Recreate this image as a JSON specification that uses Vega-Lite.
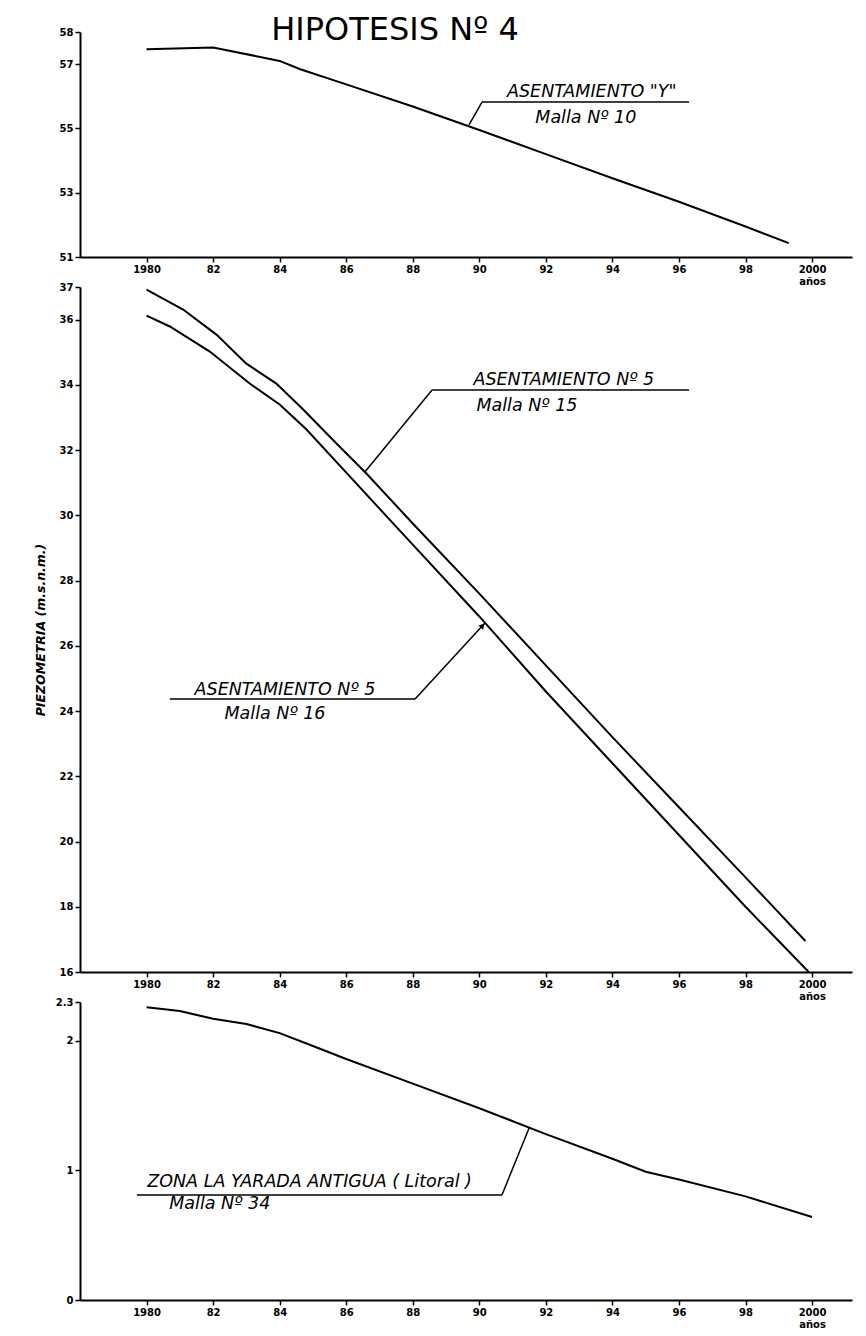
{
  "$schema": "https://vega.github.io/schema/vega-lite/v6.json",
  "background": "white",
  "padding": {"left": 34, "top": 14, "right": 8, "bottom": 8},
  "title": {"text": "HIPOTESIS Nº 4", "fontSize": 32, "font": "DejaVu Sans", "fontWeight": "normal", "color": "black", "anchor": "middle", "offset": -20, "dx": -48},
  "config": {
    "view": {"stroke": null},
    "axis": {"grid": false, "domainColor": "black", "tickColor": "black", "labelColor": "black", "labelFont": "DejaVu Sans", "labelFontWeight": "bold", "labelFontSize": 10, "domainWidth": 2, "tickWidth": 1.5, "tickSize": 5},
    "line": {"color": "black", "strokeWidth": 2},
    "rule": {"color": "black", "strokeWidth": 1.5},
    "text": {"font": "DejaVu Sans", "fontStyle": "italic", "fontSize": 17.5, "color": "black", "align": "center", "baseline": "alphabetic"}
  },
  "spacing": 30,
  "bounds": "flush",
  "datasets": {
    "malla10": [
      {"year": 1980, "value": 57.46}, {"year": 1982, "value": 57.52}, {"year": 1984, "value": 57.1},
      {"year": 1984.6, "value": 56.85}, {"year": 1986, "value": 56.37}, {"year": 1988, "value": 55.68},
      {"year": 1990, "value": 54.95}, {"year": 1992, "value": 54.2}, {"year": 1994, "value": 53.45},
      {"year": 1996, "value": 52.72}, {"year": 1998, "value": 51.95}, {"year": 1999.3, "value": 51.43}
    ],
    "malla15_16": [
      {"malla": "15", "year": 1980, "value": 36.92}, {"malla": "15", "year": 1981.1, "value": 36.31},
      {"malla": "15", "year": 1982.1, "value": 35.54}, {"malla": "15", "year": 1983, "value": 34.65},
      {"malla": "15", "year": 1983.9, "value": 34.04}, {"malla": "15", "year": 1984.7, "value": 33.25},
      {"malla": "15", "year": 1985.7, "value": 32.21}, {"malla": "15", "year": 1986.6, "value": 31.29},
      {"malla": "15", "year": 1988, "value": 29.75}, {"malla": "15", "year": 1990, "value": 27.6},
      {"malla": "15", "year": 1992, "value": 25.4}, {"malla": "15", "year": 1994, "value": 23.2},
      {"malla": "15", "year": 1996, "value": 21.05}, {"malla": "15", "year": 1998, "value": 18.9},
      {"malla": "15", "year": 1999.8, "value": 16.95},
      {"malla": "16", "year": 1980, "value": 36.12}, {"malla": "16", "year": 1980.7, "value": 35.79},
      {"malla": "16", "year": 1981.9, "value": 35.02}, {"malla": "16", "year": 1983.1, "value": 34.04},
      {"malla": "16", "year": 1984, "value": 33.4}, {"malla": "16", "year": 1984.8, "value": 32.64},
      {"malla": "16", "year": 1986.1, "value": 31.2}, {"malla": "16", "year": 1988, "value": 29.1},
      {"malla": "16", "year": 1990, "value": 26.9}, {"malla": "16", "year": 1992, "value": 24.6},
      {"malla": "16", "year": 1994, "value": 22.4}, {"malla": "16", "year": 1996, "value": 20.2},
      {"malla": "16", "year": 1998, "value": 18.0}, {"malla": "16", "year": 1999.9, "value": 16.0}
    ],
    "malla34": [
      {"year": 1980, "value": 2.26}, {"year": 1981, "value": 2.23}, {"year": 1982, "value": 2.17},
      {"year": 1983, "value": 2.13}, {"year": 1984, "value": 2.06}, {"year": 1985, "value": 1.96},
      {"year": 1986, "value": 1.86}, {"year": 1988, "value": 1.67}, {"year": 1990, "value": 1.48},
      {"year": 1992, "value": 1.28}, {"year": 1994, "value": 1.09}, {"year": 1995, "value": 0.99},
      {"year": 1996, "value": 0.93}, {"year": 1998, "value": 0.8}, {"year": 2000, "value": 0.64}
    ],
    "labels_top": [
      {"year": 1993.38, "value": 55.98, "label": "ASENTAMIENTO \"Y\""},
      {"year": 1993.2, "value": 55.17, "label": "Malla Nº 10"}
    ],
    "leaders_top": [
      {"year": 1990.08, "value": 55.82, "year2": 1996.3, "value2": 55.82},
      {"year": 1990.08, "value": 55.82, "year2": 1989.69, "value2": 55.11}
    ],
    "labels_mid": [
      {"year": 1992.54, "value": 34.0, "label": "ASENTAMIENTO  Nº 5"},
      {"year": 1991.43, "value": 33.2, "label": "Malla Nº 15"},
      {"year": 1984.16, "value": 24.49, "label": "ASENTAMIENTO Nº 5"},
      {"year": 1983.86, "value": 23.76, "label": "Malla Nº 16"}
    ],
    "leaders_mid": [
      {"year": 1988.58, "value": 33.84, "year2": 1996.3, "value2": 33.84},
      {"year": 1988.58, "value": 33.84, "year2": 1986.56, "value2": 31.33},
      {"year": 1980.7, "value": 24.37, "year2": 1988.07, "value2": 24.37},
      {"year": 1988.07, "value": 24.37, "year2": 1990.17, "value2": 26.7}
    ],
    "arrow_mid": [{"year": 1990.1, "value": 26.62}],
    "labels_bot": [
      {"year": 1984.9, "value": 0.87, "label": "ZONA LA YARADA ANTIGUA ( Litoral )"},
      {"year": 1982.2, "value": 0.7, "label": "Malla Nº 34"}
    ],
    "leaders_bot": [
      {"year": 1979.71, "value": 0.81, "year2": 1990.68, "value2": 0.81},
      {"year": 1990.68, "value": 0.81, "year2": 1991.5, "value2": 1.33}
    ]
  },
  "vconcat": [
    {
      "width": 772,
      "height": 225,
      "encoding": {
        "x": {"field": "year", "type": "quantitative", "scale": {"domain": [1978, 2001.2], "nice": false, "zero": false},
              "axis": {"title": null, "values": [1980, 1982, 1984, 1986, 1988, 1990, 1992, 1994, 1996, 1998, 2000],
                       "labelExpr": "datum.value == 1980 ? '1980' : datum.value == 2000 ? ['2000', 'años'] : slice(toString(datum.value), 2)"}},
        "y": {"field": "value", "type": "quantitative", "scale": {"domain": [51, 58], "nice": false, "zero": false},
              "axis": {"title": null, "values": [51, 53, 55, 57, 58]}}
      },
      "layer": [
        {"data": {"name": "malla10"}, "mark": {"type": "line"}},
        {"data": {"name": "leaders_top"}, "mark": {"type": "rule"},
         "encoding": {"x2": {"field": "year2"}, "y2": {"field": "value2"}}},
        {"data": {"name": "labels_top"}, "mark": {"type": "text"},
         "encoding": {"text": {"field": "label"}}}
      ]
    },
    {
      "width": 772,
      "height": 685,
      "encoding": {
        "x": {"field": "year", "type": "quantitative", "scale": {"domain": [1978, 2001.2], "nice": false, "zero": false},
              "axis": {"title": null, "values": [1980, 1982, 1984, 1986, 1988, 1990, 1992, 1994, 1996, 1998, 2000],
                       "labelExpr": "datum.value == 1980 ? '1980' : datum.value == 2000 ? ['2000', 'años'] : slice(toString(datum.value), 2)"}},
        "y": {"field": "value", "type": "quantitative", "scale": {"domain": [16, 37], "nice": false, "zero": false},
              "axis": {"title": "PIEZOMETRIA  (m.s.n.m.)", "titleFont": "DejaVu Sans", "titleFontStyle": "italic", "titleFontWeight": "bold", "titleFontSize": 12.5, "titlePadding": 12,
                       "values": [16, 18, 20, 22, 24, 26, 28, 30, 32, 34, 36, 37]}}
      },
      "layer": [
        {"data": {"name": "malla15_16"}, "mark": {"type": "line"},
         "encoding": {"detail": {"field": "malla"}}},
        {"data": {"name": "leaders_mid"}, "mark": {"type": "rule"},
         "encoding": {"x2": {"field": "year2"}, "y2": {"field": "value2"}}},
        {"data": {"name": "arrow_mid"}, "mark": {"type": "point", "shape": "triangle-up", "filled": true, "color": "black", "size": 40, "angle": 43, "opacity": 1}},
        {"data": {"name": "labels_mid"}, "mark": {"type": "text"},
         "encoding": {"text": {"field": "label"}}}
      ]
    },
    {
      "width": 772,
      "height": 298,
      "encoding": {
        "x": {"field": "year", "type": "quantitative", "scale": {"domain": [1978, 2001.2], "nice": false, "zero": false},
              "axis": {"title": null, "values": [1980, 1982, 1984, 1986, 1988, 1990, 1992, 1994, 1996, 1998, 2000],
                       "labelExpr": "datum.value == 1980 ? '1980' : datum.value == 2000 ? ['2000', 'años'] : slice(toString(datum.value), 2)"}},
        "y": {"field": "value", "type": "quantitative", "scale": {"domain": [0, 2.3], "nice": false, "zero": false},
              "axis": {"title": null, "values": [0, 1, 2, 2.3], "labelExpr": "toString(datum.value)"}}
      },
      "layer": [
        {"data": {"name": "malla34"}, "mark": {"type": "line"}},
        {"data": {"name": "leaders_bot"}, "mark": {"type": "rule"},
         "encoding": {"x2": {"field": "year2"}, "y2": {"field": "value2"}}},
        {"data": {"name": "labels_bot"}, "mark": {"type": "text"},
         "encoding": {"text": {"field": "label"}}}
      ]
    }
  ]
}
